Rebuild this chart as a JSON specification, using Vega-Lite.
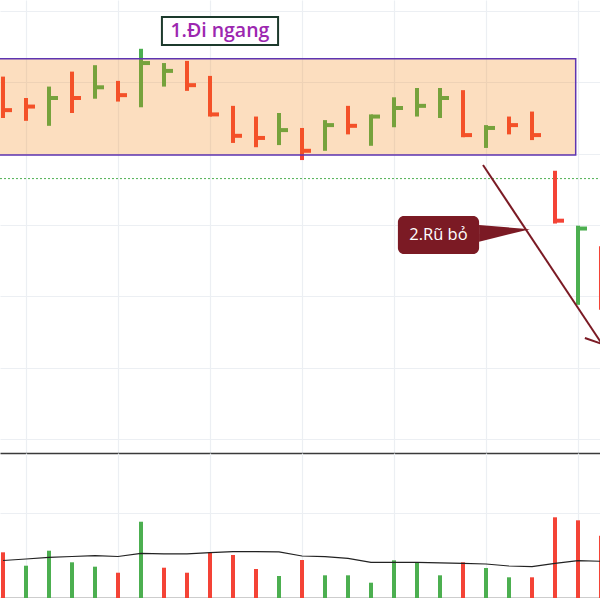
{
  "$schema": "https://vega.github.io/schema/vega-lite/v6.json",
  "padding": 0,
  "spacing": 0,
  "background": "white",
  "config": {
    "view": {"stroke": null},
    "axis": {"minExtent": 0, "labels": false, "ticks": false, "title": null, "grid": true, "gridColor": "#eceff3", "gridWidth": 1.2}
  },
  "datasets": {
    "bars": [
      {"i": 0, "high": 29.08, "low": 28.50, "close": 28.61, "dir": "down", "vol": 1075, "vdir": "down", "ma": 882},
      {"i": 1, "high": 28.78, "low": 28.46, "close": 28.66, "dir": "down", "vol": 760, "vdir": "up", "ma": 918},
      {"i": 2, "high": 28.94, "low": 28.39, "close": 28.78, "dir": "up", "vol": 1113, "vdir": "up", "ma": 958},
      {"i": 3, "high": 29.15, "low": 28.57, "close": 28.78, "dir": "down", "vol": 840, "vdir": "up", "ma": 976},
      {"i": 4, "high": 29.24, "low": 28.77, "close": 28.93, "dir": "up", "vol": 737, "vdir": "up", "ma": 995},
      {"i": 5, "high": 29.02, "low": 28.73, "close": 28.82, "dir": "down", "vol": 595, "vdir": "down", "ma": 976},
      {"i": 6, "high": 29.47, "low": 28.65, "close": 29.27, "dir": "up", "vol": 1795, "vdir": "up", "ma": 1052},
      {"i": 7, "high": 29.27, "low": 28.94, "close": 29.16, "dir": "up", "vol": 713, "vdir": "down", "ma": 1040},
      {"i": 8, "high": 29.30, "low": 28.88, "close": 28.96, "dir": "down", "vol": 595, "vdir": "down", "ma": 1040},
      {"i": 9, "high": 29.09, "low": 28.52, "close": 28.55, "dir": "down", "vol": 1075, "vdir": "down", "ma": 1066},
      {"i": 10, "high": 28.67, "low": 28.15, "close": 28.25, "dir": "down", "vol": 1012, "vdir": "down", "ma": 1089},
      {"i": 11, "high": 28.52, "low": 28.09, "close": 28.22, "dir": "down", "vol": 682, "vdir": "down", "ma": 1089},
      {"i": 12, "high": 28.57, "low": 28.12, "close": 28.33, "dir": "up", "vol": 518, "vdir": "up", "ma": 1087},
      {"i": 13, "high": 28.36, "low": 27.91, "close": 28.04, "dir": "down", "vol": 894, "vdir": "down", "ma": 988},
      {"i": 14, "high": 28.47, "low": 28.04, "close": 28.40, "dir": "up", "vol": 534, "vdir": "up", "ma": 972},
      {"i": 15, "high": 28.67, "low": 28.27, "close": 28.39, "dir": "down", "vol": 534, "vdir": "up", "ma": 934},
      {"i": 16, "high": 28.55, "low": 28.11, "close": 28.52, "dir": "up", "vol": 360, "vdir": "up", "ma": 840},
      {"i": 17, "high": 28.79, "low": 28.37, "close": 28.64, "dir": "up", "vol": 887, "vdir": "up", "ma": 840},
      {"i": 18, "high": 28.92, "low": 28.52, "close": 28.67, "dir": "up", "vol": 840, "vdir": "up", "ma": 840},
      {"i": 19, "high": 28.92, "low": 28.50, "close": 28.78, "dir": "up", "vol": 534, "vdir": "up", "ma": 828},
      {"i": 20, "high": 28.89, "low": 28.23, "close": 28.26, "dir": "down", "vol": 840, "vdir": "down", "ma": 816},
      {"i": 21, "high": 28.40, "low": 28.08, "close": 28.36, "dir": "up", "vol": 706, "vdir": "up", "ma": 800},
      {"i": 22, "high": 28.52, "low": 28.27, "close": 28.40, "dir": "down", "vol": 487, "vdir": "up", "ma": 753},
      {"i": 23, "high": 28.59, "low": 28.19, "close": 28.26, "dir": "down", "vol": 487, "vdir": "down", "ma": 737},
      {"i": 24, "high": 27.76, "low": 27.02, "close": 27.06, "dir": "down", "vol": 1899, "vdir": "down", "ma": 816},
      {"i": 25, "high": 26.99, "low": 25.88, "close": 26.95, "dir": "up", "vol": 1828, "vdir": "down", "ma": 878},
      {"i": 26, "high": 26.70, "low": 25.81, "close": 25.85, "dir": "down", "vol": 1466, "vdir": "down", "ma": 864}
    ],
    "zone": [{"start": -1, "end": 24.9, "top": 29.33, "bottom": 27.98}],
    "priceLine": [{"start": -1, "end": 27, "price": 27.65}],
    "arrow": [
      {"x1": 20.87, "y1": 27.841, "x2": 26.04, "y2": 25.332},
      {"x1": 25.30, "y1": 25.416, "x2": 26.04, "y2": 25.332},
      {"x1": 26.09, "y1": 25.570, "x2": 26.04, "y2": 25.332}
    ],
    "pointer": [
      {"x": 20.70, "top": 27.000, "bottom": 26.766},
      {"x": 22.91, "top": 26.940, "bottom": 26.940}
    ],
    "rangeLabel": [{"text": "1.Đi ngang", "x": 9.43, "y": 29.72, "x1": 6.91, "x2": 11.96, "top": 29.916, "bottom": 29.523}],
    "dropLabel": [{"text": "2.Rũ bỏ", "x": 18.93, "y": 26.86, "x1": 17.17, "x2": 20.70, "top": 27.126, "bottom": 26.593}]
  },
  "vconcat": [
    {
      "width": 600,
      "height": 453,
      "layer": [
        {
          "data": {"name": "priceLine"},
          "mark": {"type": "rule", "color": "#4caf50", "strokeWidth": 1, "strokeDash": [2, 2], "clip": true},
          "encoding": {
            "x": {"field": "start", "type": "quantitative", "scale": {"domain": [-0.1304, 25.957], "nice": false, "zero": false},
                  "axis": {"values": [1, 5, 9, 13, 17, 21, 25], "domain": true, "domainColor": "#3a3a3a", "domainWidth": 1.5}},
            "x2": {"field": "end"},
            "y": {"field": "price", "type": "quantitative", "scale": {"domain": [23.803, 30.154], "nice": false, "zero": false},
                  "axis": {"values": [24, 24.5, 25, 25.5, 26, 26.5, 27, 27.5, 28, 28.5, 29, 29.5, 30], "domain": false}}
          }
        },
        {
          "data": {"name": "bars"},
          "mark": {"type": "rule", "strokeWidth": 4, "clip": true},
          "encoding": {
            "x": {"field": "i", "type": "quantitative"},
            "y": {"field": "high", "type": "quantitative"},
            "y2": {"field": "low"},
            "color": {"field": "dir", "type": "nominal", "scale": {"domain": ["up", "down"], "range": ["#4caf50", "#f44336"]}, "legend": null}
          }
        },
        {
          "data": {"name": "bars"},
          "mark": {"type": "rule", "strokeWidth": 4, "x2Offset": 9, "clip": true},
          "encoding": {
            "x": {"field": "i", "type": "quantitative"},
            "x2": {"field": "i"},
            "y": {"field": "close", "type": "quantitative"},
            "color": {"field": "dir", "type": "nominal", "legend": null}
          }
        },
        {
          "data": {"name": "zone"},
          "mark": {"type": "rect", "fill": "#f57c00", "fillOpacity": 0.25, "stroke": "#5e35b1", "strokeWidth": 1.5, "clip": true},
          "encoding": {
            "x": {"field": "start", "type": "quantitative"},
            "x2": {"field": "end"},
            "y": {"field": "top", "type": "quantitative"},
            "y2": {"field": "bottom"}
          }
        },
        {
          "data": {"name": "arrow"},
          "mark": {"type": "rule", "color": "#7b1a24", "strokeWidth": 2, "clip": true},
          "encoding": {
            "x": {"field": "x1", "type": "quantitative"},
            "y": {"field": "y1", "type": "quantitative"},
            "x2": {"field": "x2"},
            "y2": {"field": "y2"}
          }
        },
        {
          "data": {"name": "pointer"},
          "mark": {"type": "area", "color": "#7b1a24", "opacity": 1, "clip": true},
          "encoding": {
            "x": {"field": "x", "type": "quantitative"},
            "y": {"field": "top", "type": "quantitative"},
            "y2": {"field": "bottom"}
          }
        },
        {
          "data": {"name": "dropLabel"},
          "mark": {"type": "rect", "fill": "#7b1a24", "cornerRadius": 6, "clip": true},
          "encoding": {
            "x": {"field": "x1", "type": "quantitative"},
            "x2": {"field": "x2"},
            "y": {"field": "top", "type": "quantitative"},
            "y2": {"field": "bottom"}
          }
        },
        {
          "data": {"name": "dropLabel"},
          "mark": {"type": "text", "font": "Open Sans", "fontSize": 16.5, "fontWeight": 500, "color": "#ffffff", "align": "center", "baseline": "middle", "clip": true},
          "encoding": {
            "x": {"field": "x", "type": "quantitative"},
            "y": {"field": "y", "type": "quantitative"},
            "text": {"field": "text"}
          }
        },
        {
          "data": {"name": "rangeLabel"},
          "mark": {"type": "rect", "fill": "white", "stroke": "#1c3a2c", "strokeWidth": 2, "clip": true},
          "encoding": {
            "x": {"field": "x1", "type": "quantitative"},
            "x2": {"field": "x2"},
            "y": {"field": "top", "type": "quantitative"},
            "y2": {"field": "bottom"}
          }
        },
        {
          "data": {"name": "rangeLabel"},
          "mark": {"type": "text", "font": "Open Sans", "fontSize": 19.5, "fontWeight": 600, "color": "#9c27b0", "align": "center", "baseline": "middle", "clip": true},
          "encoding": {
            "x": {"field": "x", "type": "quantitative"},
            "y": {"field": "y", "type": "quantitative"},
            "text": {"field": "text"}
          }
        }
      ]
    },
    {
      "width": 600,
      "height": 145,
      "data": {"name": "bars"},
      "layer": [
        {
          "mark": {"type": "rule", "strokeWidth": 4, "clip": true},
          "encoding": {
            "x": {"field": "i", "type": "quantitative", "scale": {"domain": [-0.1304, 25.957], "nice": false, "zero": false},
                  "axis": {"values": [1, 5, 9, 13, 17, 21, 25], "domain": true, "domainColor": "#3a3a3a", "domainWidth": 1.5}},
            "y": {"field": "vol", "type": "quantitative", "scale": {"domain": [0, 3412], "nice": false},
                  "axis": {"values": [2000], "domain": false}},
            "y2": {"datum": 0},
            "color": {"field": "vdir", "type": "nominal", "scale": {"domain": ["up", "down"], "range": ["#4caf50", "#f44336"]}, "legend": null}
          }
        },
        {
          "mark": {"type": "line", "color": "#222222", "strokeWidth": 1.2, "clip": true},
          "encoding": {
            "x": {"field": "i", "type": "quantitative"},
            "y": {"field": "ma", "type": "quantitative"}
          }
        }
      ]
    }
  ]
}
